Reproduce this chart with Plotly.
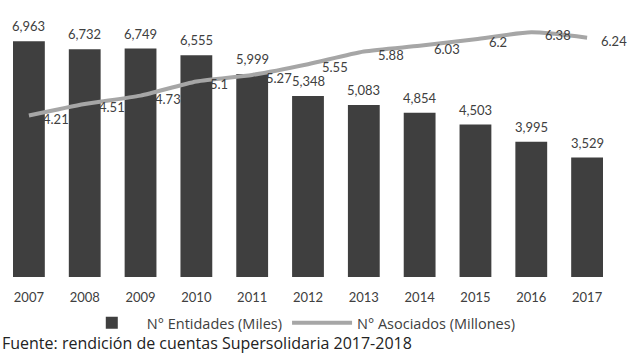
import plotly.graph_objects as go

years = ["2007", "2008", "2009", "2010", "2011", "2012", "2013", "2014", "2015", "2016", "2017"]
entidades = [6963, 6732, 6749, 6555, 5999, 5348, 5083, 4854, 4503, 3995, 3529]
entidades_labels = ["6,963", "6,732", "6,749", "6,555", "5,999", "5,348", "5,083", "4,854", "4,503", "3,995", "3,529"]
asociados = [4.21, 4.51, 4.73, 5.1, 5.27, 5.55, 5.88, 6.03, 6.2, 6.38, 6.24]
asociados_labels = ["4.21", "4.51", "4.73", "5.1", "5.27", "5.55", "5.88", "6.03", "6.2", "6.38", "6.24"]

FONT = "Lato"
FONT2 = "Open Sans"
TXT = "#404040"

fig = go.Figure()
fig.add_trace(go.Bar(
    x=years, y=entidades, name="N° Entidades (Miles)",
    marker=dict(color="#3f3f3f", line=dict(width=0)),
))
fig.add_trace(go.Scatter(
    x=years, y=asociados, name="N° Asociados (Millones)", yaxis="y2",
    mode="lines", line=dict(color="#a6a6a6", width=4, shape="spline", smoothing=0.6),
))
for i, (y, t) in enumerate(zip(entidades, entidades_labels)):
    fig.add_annotation(x=i, y=y, xref="x", yref="y", text=t, showarrow=False,
                       yanchor="bottom", yshift=5,
                       font=dict(family=FONT, size=13, color=TXT))
for i, (y, t) in enumerate(zip(asociados, asociados_labels)):
    fig.add_annotation(x=i, y=y, xref="x", yref="y2", text=t, showarrow=False,
                       xanchor="left", xshift=12, yshift=-3,
                       font=dict(family=FONT, size=13, color=TXT))

fig.add_annotation(xref="paper", yref="paper", x=-0.002, y=-0.25, xanchor="left", yanchor="middle",
                   text="Fuente: rendición de cuentas Supersolidaria 2017-2018", showarrow=False,
                   font=dict(family=FONT2, size=16, color="#222222"))

fig.update_layout(
    width=627, height=353,
    margin=dict(l=1, r=12, t=13, b=76),
    paper_bgcolor="white", plot_bgcolor="white",
    bargap=0.43,
    showlegend=True,
    legend=dict(orientation="h", x=0.485, xanchor="center", y=-0.174, yanchor="middle",
                font=dict(family=FONT2, size=14.5, color=TXT), traceorder="normal",
                itemwidth=60),
    xaxis=dict(type="category", range=[-0.5, 10.5], showgrid=False, showline=False,
               ticks="outside", ticklen=8, tickcolor="white",
               tickfont=dict(family=FONT, size=13, color=TXT)),
    yaxis=dict(range=[0, 7800], visible=False),
    yaxis2=dict(range=[0, 6.885], overlaying="y", visible=False),
)

fig.write_html("out.html")
